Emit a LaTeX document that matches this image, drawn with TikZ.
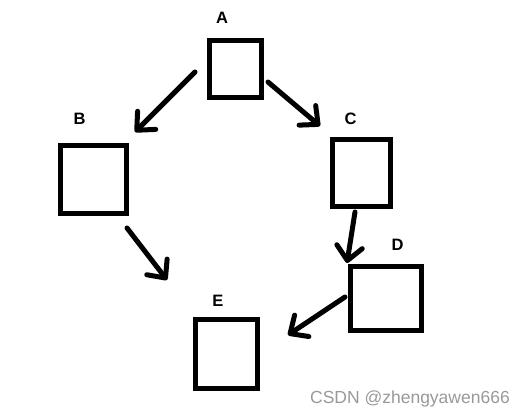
\documentclass[tikz,border=0pt]{standalone}
\usepackage{fontspec}
\setmainfont{Liberation Sans}
\usetikzlibrary{arrows.meta}

\begin{document}
\begin{tikzpicture}[x = 1pt, y = -1pt]
\tikzstyle{blk}=[draw, line width = 5pt, inner sep = 0pt]
\tikzstyle{tag}=[inner sep = 0pt, font = \fontsize{16.5}{18}\selectfont\bfseries]
\tikzstyle{arr}=[line width = 5pt, line cap = round, -{Straight Barb[angle = 85:19pt, round]}]

\useasboundingbox (0,0) rectangle (525,417);

% boxes
\node[blk, minimum width = 52pt, minimum height = 57pt] (A) at (235.5,69) {};
\node[blk, minimum width = 66pt, minimum height = 68pt] (B) at (93.5,179.5) {};
\node[blk, minimum width = 58pt, minimum height = 67pt] (C) at (361.5,173) {};
\node[blk, minimum width = 71pt, minimum height = 64pt] (D) at (386,298.5) {};
\node[blk, minimum width = 62pt, minimum height = 69pt] (E) at (226.5,354) {};

% letters
\node[tag] (tA) at (222,17.5) {A};
\node[tag] (tB) at (79.5,118.5) {B};
\node[tag] (tC) at (350.5,118.5) {C};
\node[tag] (tD) at (397.5,245) {D};
\node[tag] (tE) at (218,300.5) {E};

% arrows
\draw[arr] ([shift = {(-12,3)}]A.west) -- ([shift = {(6,-11)}]B.north east);
\draw[arr] ([shift = {(4,13)}]A.east) -- ([shift = {(-10,-11)}]C.north west);
\draw[arr] ([shift = {(-2,12)}]B.south east) -- ([shift = {(-26,-37)}]E.north west);
\draw[arr] ([shift = {(-6.5,3)}]C.south) -- ([shift = {(-1,-1)}]D.north west);
\draw[arr] ([shift = {(-3,-1.5)}]D.west) -- ([shift = {(28,-19)}]E.east);

\node[anchor = base east, inner sep = 0pt, text = black!40, font = \fontsize{17.5}{20}\selectfont] (wm) at (510,403.5) {CSDN @zhengyawen666};
\end{tikzpicture}
\end{document}
